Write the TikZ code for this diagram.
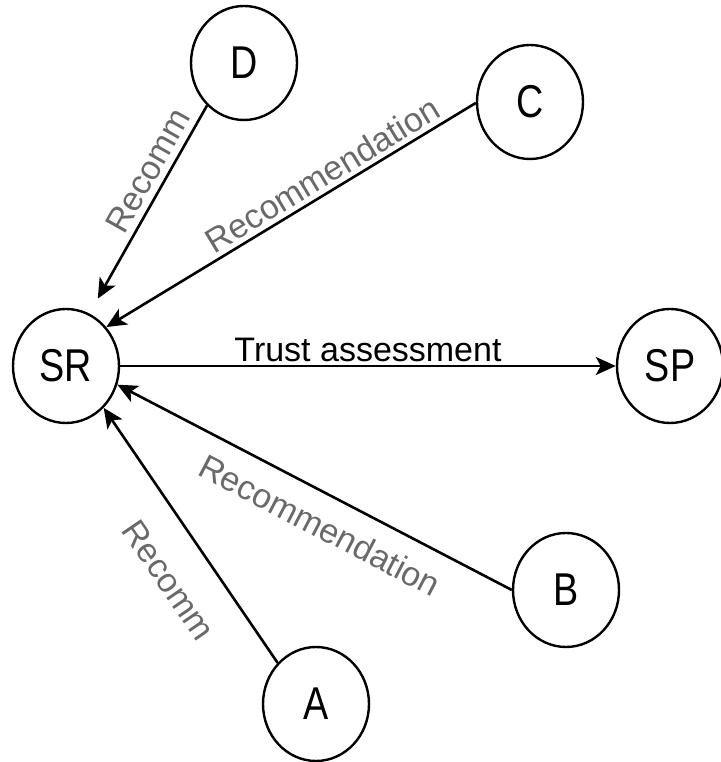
\documentclass[tikz,border=0pt]{standalone}
\usepackage{fontspec}
\setmainfont{Liberation Sans}
\newfontfamily\nodefont[FakeStretch=0.82]{Liberation Sans}
\usepackage{tikz}
\usetikzlibrary{arrows.meta,shapes.geometric}
\definecolor{lgray}{RGB}{105,105,105}

\begin{document}
\begin{tikzpicture}[x=1pt, y=1pt,
  peer/.style={draw, ellipse, line width=2.4pt, minimum width=106pt, minimum height=114pt, inner sep=0pt, font=\nodefont\fontsize{46}{54}\selectfont},
  rel/.style={-{Stealth[length=20pt,width=18pt,inset=5pt]}, line width=2.6pt},
  lab/.style={font=\fontsize{34}{40}\selectfont, text=lgray, sloped}
]
\useasboundingbox (0,0) rectangle (720,762);
\node[peer] (SR) at (66,396) {SR};
\node[peer] (SP) at (670,396) {SP};
\node[peer] (D) at (244,699) {D};
\node[peer] (C) at (530,660) {C};
\node[peer] (B) at (566,172) {B};
\node[peer] (A) at (316,58) {A};
\draw[rel] (SR.east) -- (SP.west) node[midway, above, font=\fontsize{34}{40}\selectfont] {Trust assessment};
\draw[rel, shorten >=17pt] (D.229) -- (SR.66) node[pos=.36, above=3pt, lab] {Recomm};
\draw[rel] (C.181) -- (SR.44) node[pos=.39, above=1pt, lab] {Recommendation};
\draw[rel] (B.west) -- (SR.340) node[pos=.45, below=14pt, lab] {Recommendation};
\draw[rel] (A.133) -- (SR.312) node[pos=.42, below=27pt, lab] {Recomm};
\end{tikzpicture}
\end{document}
